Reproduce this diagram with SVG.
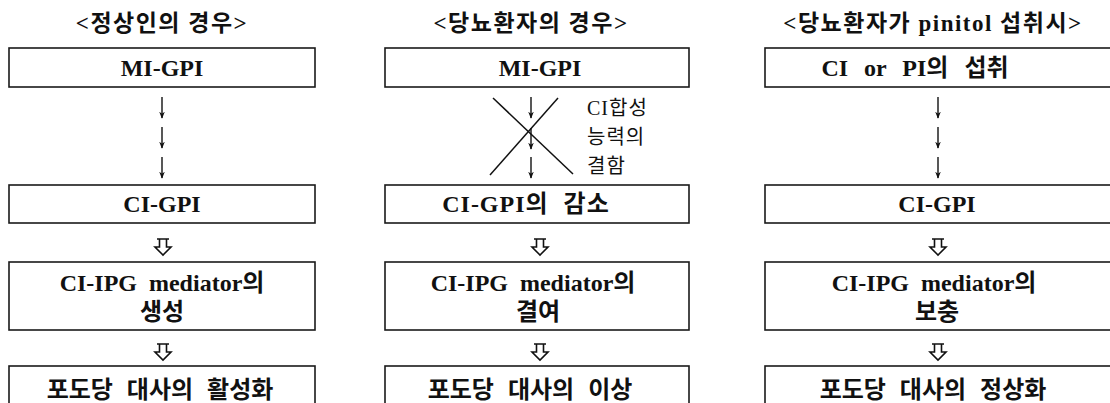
<svg xmlns="http://www.w3.org/2000/svg" width="1110" height="403" viewBox="0 0 1110 403">
<style>
.box{fill:#fff;stroke:#1a1a1a;stroke-width:1.6}
.t{font-family:"Liberation Serif","Noto Sans CJK KR",serif;font-weight:bold;font-size:24px;fill:#111;text-anchor:middle}
.ttl{font-family:"Liberation Serif","Noto Sans CJK KR",serif;font-weight:bold;font-size:23px;fill:#111;text-anchor:middle;letter-spacing:1.5px}
.lab{font-family:"Liberation Serif","Noto Sans CJK KR",serif;font-size:20px;fill:#111;letter-spacing:1px}
.ln{stroke:#111;stroke-width:1.5;fill:none}
.ar{stroke:#111;stroke-width:1.4;fill:none;marker-end:url(#ah)}
.ho{fill:#fff;stroke:#111;stroke-width:1.6;stroke-linejoin:miter}
</style>
<defs>
<marker id="ah" viewBox="0 0 10 10" refX="9" refY="5" markerWidth="7" markerHeight="7" orient="auto" markerUnits="userSpaceOnUse">
<path d="M0,1 L10,5 L0,9 L3,5 Z" fill="#111"/>
</marker>
<path id="hollow" d="M-6,0 L6,0 M-3.5,0 L-3.5,8 L-8,8 L0,16 L8,8 L3.5,8 L3.5,0"/>
</defs>
<rect width="1110" height="403" fill="#fff"/>

<g id="titles">
<text class="ttl" x="162" y="31">&lt;정상인의 경우&gt;</text>
<text class="ttl" x="531" y="31">&lt;당뇨환자의 경우&gt;</text>
<text class="ttl" x="933" y="31">&lt;당뇨환자가 pinitol 섭취시&gt;</text>
</g>

<g id="col1">
<g id="n1a"><rect class="box" x="9" y="48" width="306" height="39"/><text class="t" x="162" y="76">MI-GPI</text></g>
<g id="n1b"><rect class="box" x="9" y="185" width="306" height="38"/><text class="t" x="162" y="212">CI-GPI</text></g>
<g id="n1c"><rect class="box" x="9" y="262" width="306" height="68"/><text class="t" x="162" y="291" word-spacing="6">CI-IPG mediator의</text><text class="t" x="162" y="320">생성</text></g>
<g id="n1d"><rect class="box" x="9" y="366" width="306" height="45"/><text class="t" x="160" y="398" word-spacing="8">포도당 대사의 활성화</text></g>
</g>

<g id="col2">
<g id="n2a"><rect class="box" x="385" y="48" width="304" height="39"/><text class="t" x="540" y="76">MI-GPI</text></g>
<g id="n2b"><rect class="box" x="385" y="185" width="304" height="38"/><text class="t" x="526" y="212" word-spacing="8" letter-spacing="1">CI-GPI의 감소</text></g>
<g id="n2c"><rect class="box" x="385" y="262" width="304" height="68"/><text class="t" x="533" y="291" word-spacing="6">CI-IPG mediator의</text><text class="t" x="538" y="320">결여</text></g>
<g id="n2d"><rect class="box" x="385" y="366" width="304" height="45"/><text class="t" x="530" y="398" word-spacing="8">포도당 대사의 이상</text></g>
<g id="block">
<line class="ln" x1="493" y1="98" x2="573" y2="174"/>
<line class="ln" x1="558" y1="98" x2="490" y2="175"/>
<text class="lab" x="587" y="115">CI합성</text>
<text class="lab" x="587" y="144">능력의</text>
<text class="lab" x="587" y="173">결함</text>
</g>
</g>

<g id="col3">
<g id="n3a"><rect class="box" x="765" y="48" width="350" height="39"/><text class="t" x="915" y="76" word-spacing="10">CI or PI의 섭취</text></g>
<g id="n3b"><rect class="box" x="765" y="185" width="350" height="38"/><text class="t" x="937" y="212">CI-GPI</text></g>
<g id="n3c"><rect class="box" x="765" y="262" width="350" height="68"/><text class="t" x="934" y="291" word-spacing="6">CI-IPG mediator의</text><text class="t" x="937" y="320">보충</text></g>
<g id="n3d"><rect class="box" x="765" y="366" width="350" height="45"/><text class="t" x="933" y="398" word-spacing="8">포도당 대사의 정상화</text></g>
</g>

<g id="connectors">
<line class="ar" x1="162" y1="97" x2="162" y2="118"/>
<line class="ar" x1="162" y1="127" x2="162" y2="148"/>
<line class="ar" x1="162" y1="157" x2="162" y2="178"/>
<line class="ar" x1="531" y1="97" x2="531" y2="118"/>
<line class="ar" x1="531" y1="128" x2="531" y2="149"/>
<line class="ar" x1="531" y1="157" x2="531" y2="178"/>
<line class="ar" x1="938" y1="97" x2="938" y2="118"/>
<line class="ar" x1="938" y1="127" x2="938" y2="148"/>
<line class="ar" x1="938" y1="157" x2="938" y2="178"/>
<use href="#hollow" class="ho" x="163" y="239"/>
<use href="#hollow" class="ho" x="163" y="344"/>
<use href="#hollow" class="ho" x="540" y="239"/>
<use href="#hollow" class="ho" x="540" y="344"/>
<use href="#hollow" class="ho" x="938" y="239"/>
<use href="#hollow" class="ho" x="938" y="344"/>
</g>
</svg>
